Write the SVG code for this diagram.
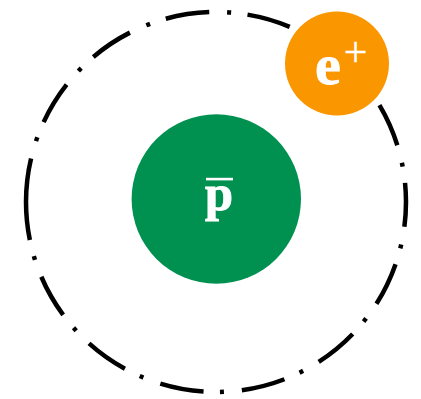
<svg xmlns="http://www.w3.org/2000/svg" width="421" height="399" viewBox="0 0 421 399">
<style>
.orbit{fill:none;stroke:#000;stroke-width:4.5;stroke-dasharray:44 18 4 16.5;}
.lbl{font-family:"Liberation Serif","Times New Roman",serif;font-weight:bold;fill:#fff;stroke:#fff;stroke-width:0.8;}
</style>
<rect width="421" height="399" fill="#fff"/>
<g id="connectors">
<path class="orbit" d="M26 202 A190 190 0 0 1 406 202 A190 190 0 0 1 26 202 Z"/>
</g>
<g id="antiproton">
<circle cx="216.3" cy="199" r="84.7" fill="#009150"/>
<text class="lbl" x="219" y="210" font-size="51" text-anchor="middle">p</text>
<rect x="206" y="177.8" width="27" height="2.6" fill="#fff"/>
</g>
<g id="positron">
<circle cx="337" cy="63.5" r="52" fill="#FA9600"/>
<text class="lbl" x="315" y="83.5" font-size="58">e<tspan dx="3" dy="-18" font-size="42" font-weight="normal" stroke-width="0.3">+</tspan></text>
</g>
</svg>
